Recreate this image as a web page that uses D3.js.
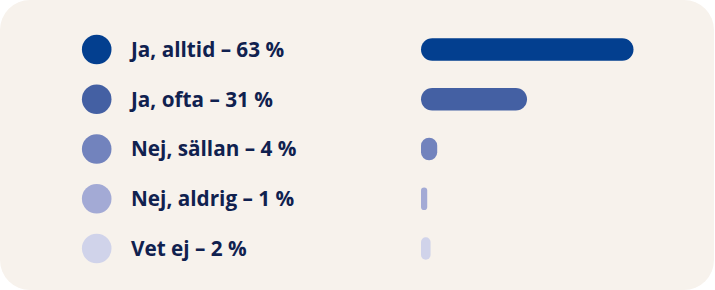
<!DOCTYPE html>
<html>
<head>
<meta charset="utf-8">
<script src="https://cdn.jsdelivr.net/npm/d3@7"></script>
<style>
  html, body { margin: 0; padding: 0; background: #ffffff; }
  svg { display: block; }
</style>
</head>
<body>
<div id="chart"></div>
<script>
// data
var categories = ["Ja, alltid", "Ja, ofta", "Nej, sällan", "Nej, aldrig", "Vet ej"];
var values = [63, 31, 4, 1, 2];
var colors = ["#033f8f", "#4460a3", "#7283bd", "#a3aad5", "#d0d3ea"];

var width = 715, height = 290;

var svg = d3.select("#chart").append("svg")
    .attr("width", width)
    .attr("height", height);

// card background
svg.append("rect")
    .attr("x", 0).attr("y", 0)
    .attr("width", 714).attr("height", 290)
    .attr("rx", 30).attr("ry", 30)
    .attr("fill", "#f7f2ec");

var y = d3.scalePoint()
    .domain(categories)
    .range([49.5, 248.5]);

// bar length, small values still get a visible stub
var x = d3.scaleLinear()
    .domain([0, 63])
    .range([2.4, 212]);

var barX = 421, barH = 22.5;

var rows = svg.selectAll("g.row")
    .data(categories.map(function (c, i) { return { name: c, value: values[i], color: colors[i] }; }))
    .enter().append("g")
    .attr("class", "row")
    .attr("transform", function (d) { return "translate(0," + y(d.name) + ")"; });

rows.append("circle")
    .attr("cx", 96.7)
    .attr("cy", 0)
    .attr("r", 14.8)
    .attr("fill", function (d) { return d.color; });

var labels = rows.append("text")
    .attr("x", 131)
    .attr("y", 0)
    .attr("dy", "0.36em")
    .attr("font-family", "'Open Sans', sans-serif")
    .attr("font-weight", "bold")
    .attr("font-size", "20px")
    .attr("fill", "#10214f")
    .text(function (d) { return d.name + " \u2013 " + d.value + " %"; });

// fit the font so the labels together are about as wide as in the original (~739px)
var total = 0;
labels.each(function () { total += this.getComputedTextLength(); });
labels.attr("font-size", (20 * 739 / total).toFixed(2) + "px");

rows.append("rect")
    .attr("x", barX)
    .attr("y", -barH / 2)
    .attr("width", function (d) { return x(d.value) + 0.5; })
    .attr("height", barH)
    .attr("rx", function (d) { return Math.min(barH / 2, (x(d.value) + 0.5) / 2); })
    .attr("fill", function (d) { return d.color; });
</script>
</body>
</html>
